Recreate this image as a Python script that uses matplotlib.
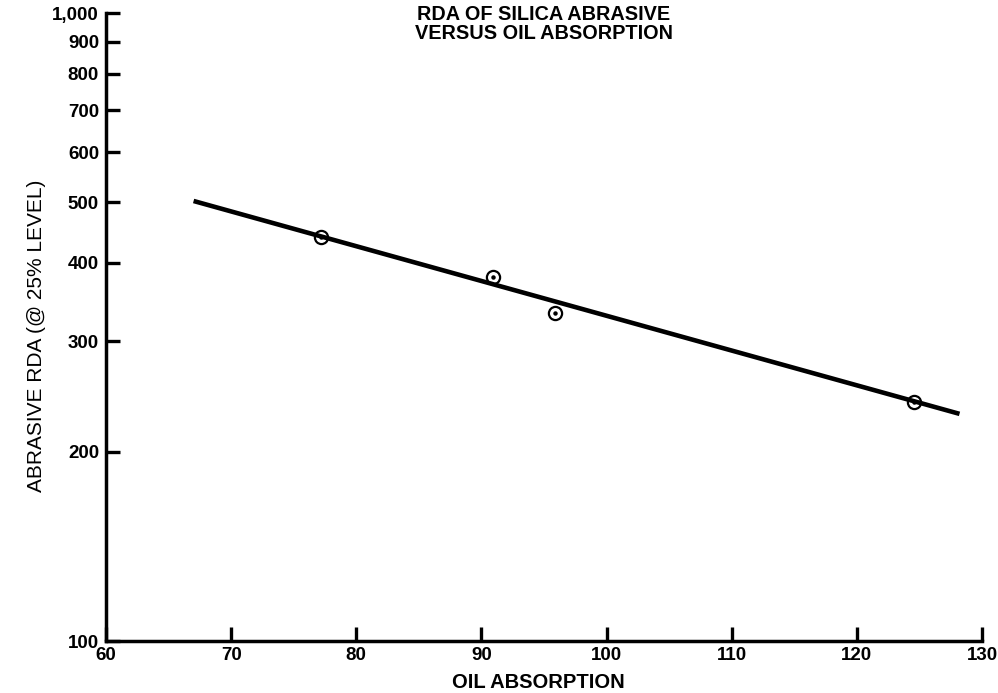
import numpy as np
import matplotlib
matplotlib.use("Agg")
import matplotlib.pyplot as plt
from matplotlib.ticker import FixedLocator, NullLocator

plt.rcParams["font.family"] = ["Liberation Sans", "DejaVu Sans"]

# measured samples
oil_absorption = [77.2, 90.9, 95.9, 124.6]
rda = [440, 380, 333, 240]

# fitted trend line end points
fit_x = [67.0, 128.2]
fit_y = [502, 230]

y_ticks = [100, 200, 300, 400, 500, 600, 700, 800, 900, 1000]
y_labels = ["100", "200", "300", "400", "500", "600", "700", "800", "900", "1,000"]
x_ticks = [60, 70, 80, 90, 100, 110, 120, 130]

fig = plt.figure(figsize=(9.98, 6.93), dpi=100)
ax = fig.add_axes([0.1062, 0.075, 0.8778, 0.9062])

ax.plot(fit_x, fit_y, color="black", lw=3.3, solid_capstyle="butt", zorder=2)
ax.plot(oil_absorption, rda, linestyle="none", marker="o", markersize=9.5,
        markerfacecolor="none", markeredgecolor="black", markeredgewidth=1.6, zorder=3)
ax.plot(oil_absorption, rda, linestyle="none", marker="o", markersize=2.2,
        color="black", zorder=3)

ax.set_yscale("log")
ax.set_xlim(60, 130)
ax.set_ylim(100, 1000)
ax.yaxis.set_major_locator(FixedLocator(y_ticks))
ax.yaxis.set_minor_locator(NullLocator())
ax.set_yticklabels(y_labels)
ax.set_xticks(x_ticks)

for s in ["top", "right"]:
    ax.spines[s].set_visible(False)
for s in ["left", "bottom"]:
    ax.spines[s].set_linewidth(2.5)

ax.tick_params(axis="y", direction="in", length=10, width=2.4, pad=5,
               labelsize=13.5)
ax.tick_params(axis="x", direction="in", length=10, width=2.4, pad=4,
               labelsize=13.5)
for lab in ax.get_xticklabels() + ax.get_yticklabels():
    lab.set_fontweight("bold")

ax.set_xlabel("OIL ABSORPTION", fontsize=14.5, fontweight="bold", labelpad=7)
ax.xaxis.label.set_x(0.494)
fig.text(37 / 998, 1 - 336 / 693, "ABRASIVE RDA (@ 25% LEVEL)", rotation=90,
         ha="center", va="center", fontsize=15)

fig.text(0.545, 1 - 24 / 693, "RDA OF SILICA ABRASIVE\nVERSUS OIL ABSORPTION",
         ha="center", va="center", fontsize=14.3, fontweight="bold",
         linespacing=0.95)

fig.savefig("out.png", dpi=100)
